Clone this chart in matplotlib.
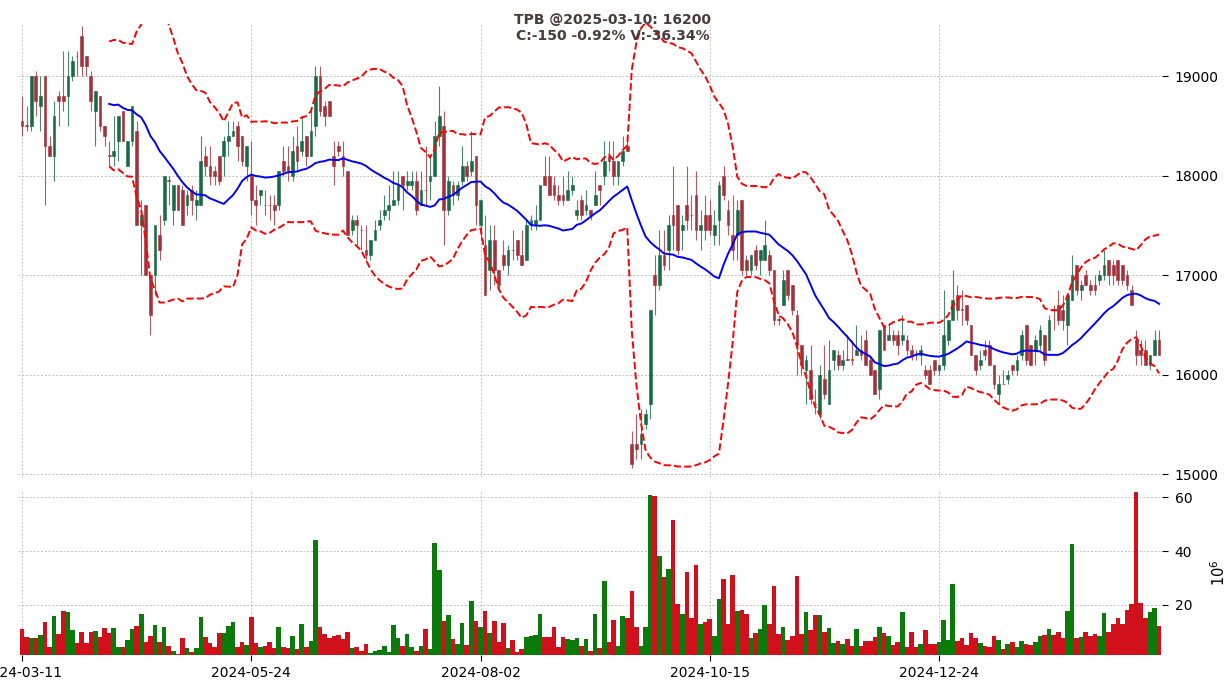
import numpy as np
import pandas as pd
import matplotlib
matplotlib.use("Agg")
import matplotlib.pyplot as plt

# OHLC (VND), 249 sessions, 2024-03-11 .. 2025-03-10
opens = [
    18550, 18500, 18500, 19000, 18700, 19000, 18300, 18200, 18800, 18800,
    18800, 19000, 19200, 19400, 19200, 19000, 18650, 18800, 18500, 18200,
    18200, 18350, 18650, 18100, 18350, 18450, 17500, 17700, 17000, 17000,
    17400, 17550, 17950, 17650, 17900, 17850, 17700, 17850, 17700, 17700,
    18200, 18100, 18050, 18200, 18200, 18350, 18400, 18500, 18400, 18100,
    18000, 17750, 17800, 17700, 17700, 17700, 17700, 18150, 18100, 18000,
    18300, 18250, 18400, 18200, 18500, 19000, 18700, 18750, 18200, 18300,
    18200, 18050, 17450, 17550, 17450, 17250, 17200, 17350, 17500, 17600,
    17650, 17700, 17750, 18000, 17900, 17900, 17950, 17700, 17850, 17950,
    18000, 18400, 18500, 17650, 17900, 17800, 17950, 18100, 18050, 18200,
    17500, 17300, 17050, 17350, 17050, 17200, 17100, 17250, 17350, 17200,
    17150, 17500, 17500, 17550, 18000, 18000, 17900, 17800, 17800, 17750,
    17850, 17600, 17750, 17650, 17650, 17700, 17900, 18000, 18200, 18150,
    18000, 18150, 18300, 15300, 15300, 15300, 15500, 15700, 17000, 16900,
    17200, 17250, 17600, 17700, 17450, 17700, 17600, 17800, 17450, 17600,
    17600, 17400, 17550, 18000, 17650, 17400, 17400, 17750, 17150, 17050,
    17250, 17150, 17150, 17200, 17050, 16550, 16700, 17050, 16900, 16600,
    16300, 16050, 16050, 15700, 15600, 15950, 15700, 16150, 16200, 16100,
    16150, 16150, 16200, 16250, 16350, 16150, 16050, 15850, 16500, 16350,
    16400, 16400, 16350, 16350, 16250, 16200, 16200, 16050, 16050, 16150,
    16050, 16100, 16350, 16550, 16800, 16650, 16700, 16500, 16200, 16100,
    16250, 16300, 16100, 15800, 15900, 15950, 16100, 16050, 16200, 16500,
    16300, 16250, 16300, 16400, 16250, 16650, 16700, 16650, 16500, 16750,
    17100, 16850, 17000, 16900, 16900, 16950, 17000, 17150, 17100, 17150,
    17100, 17000, 16850, 16350, 16250, 16250, 16100, 16200, 16350,
]
highs = [
    18800, 18700, 19000, 19050, 19000, 19000, 18400, 18750, 18850, 19250,
    19250, 19200, 19250, 19500, 19200, 19050, 18850, 18800, 18500, 18350,
    18600, 18600, 18650, 18350, 18700, 18550, 17750, 17700, 17000, 17500,
    17600, 18000, 18000, 17900, 17900, 17900, 17850, 17900, 17850, 18400,
    18300, 18300, 18100, 18200, 18400, 18550, 18550, 18550, 18400, 18300,
    18350, 17900, 17850, 17850, 17800, 17800, 18050, 18300, 18300, 18400,
    18500, 18600, 18400, 18650, 19100, 19100, 18750, 18750, 18350, 18350,
    18350, 18050, 17600, 17600, 17500, 17500, 17350, 17550, 17650, 17800,
    17900, 18050, 18050, 18000, 18050, 18050, 18050, 18050, 18300, 18200,
    18550, 18900, 18650, 18000, 17950, 17950, 18300, 18150, 18450, 18200,
    17750, 17600, 17500, 17500, 17050, 17350, 17300, 17450, 17350, 17450,
    17550, 17600, 17700, 17900, 18200, 18200, 18000, 17900, 18000, 18050,
    18000, 17750, 17800, 17850, 17650, 18050, 17900, 18350, 18350, 18350,
    18150, 18400, 18400, 15430, 15600, 15650, 15650, 16650, 17200, 17450,
    17450, 17600, 18100, 17700, 17600, 18100, 17800, 18050, 17650, 17800,
    17750, 17650, 17950, 18100, 17750, 17800, 17750, 17750, 17200, 17200,
    17300, 17250, 17550, 17250, 17050, 16600, 17050, 17050, 16900, 16650,
    16300, 16200, 16300, 15850, 16100, 16300, 16350, 16250, 16250, 16250,
    16400, 16350, 16500, 16400, 16450, 16200, 16050, 16450, 16500, 16500,
    16450, 16450, 16600, 16400, 16300, 16250, 16300, 16100, 16100, 16150,
    16100, 16850, 16550, 17050, 16900, 16850, 16700, 16500, 16200, 16250,
    16350, 16350, 16100, 16000, 16050, 16050, 16100, 16200, 16450, 16500,
    16300, 16400, 16500, 16400, 16600, 16700, 16850, 16800, 16800, 17200,
    17100, 16950, 17050, 16950, 17000, 17050, 17250, 17150, 17150, 17150,
    17100, 17050, 16900, 16450, 16350, 16350, 16200, 16450, 16450,
]
lows = [
    18400, 18450, 18450, 18600, 18450, 17700, 18200, 17950, 18500, 18650,
    18500, 18950, 19000, 19000, 19000, 18650, 18300, 18450, 18300, 18100,
    18100, 18150, 18350, 18100, 18300, 17500, 17000, 17000, 16400, 16800,
    17150, 17500, 17700, 17500, 17650, 17500, 17600, 17600, 17550, 17700,
    18000, 17900, 17900, 17900, 18000, 18200, 18400, 18150, 18100, 17950,
    17600, 17500, 17700, 17600, 17550, 17500, 17650, 18000, 17950, 17950,
    18050, 18200, 18100, 18200, 18400, 18600, 18500, 18600, 17900, 18200,
    18000, 17400, 17400, 17300, 17250, 17150, 17150, 17350, 17450, 17550,
    17550, 17700, 17700, 17650, 17850, 17850, 17600, 17700, 17700, 17750,
    18000, 18300, 17300, 17600, 17700, 17750, 17900, 17950, 18000, 17500,
    17350, 16800, 16850, 16900, 16850, 17050, 17000, 17150, 17150, 17100,
    17150, 17450, 17450, 17550, 17900, 17800, 17750, 17700, 17700, 17750,
    17800, 17550, 17550, 17600, 17550, 17700, 17700, 17900, 18050, 17900,
    17900, 18100, 18250, 15060, 15150, 15150, 15450, 15550, 16600, 16850,
    17050, 17050, 17250, 17200, 17250, 17450, 17450, 17350, 17250, 17350,
    17400, 17300, 17300, 17750, 17400, 17150, 17150, 17000, 17000, 17000,
    17050, 17000, 17150, 17000, 16500, 16500, 16700, 16750, 16600, 16000,
    16000, 15700, 15700, 15600, 15550, 15750, 15700, 16050, 16050, 16050,
    16150, 16100, 16200, 16150, 16100, 16000, 15800, 15750, 16250, 16350,
    16300, 16200, 16300, 16200, 16150, 16150, 16100, 15950, 15900, 16000,
    16000, 16050, 16300, 16550, 16550, 16500, 16500, 16200, 16000, 16050,
    16150, 16100, 15850, 15700, 15900, 15900, 16000, 16000, 16150, 16100,
    16100, 16100, 16250, 16100, 16250, 16450, 16500, 16450, 16300, 16750,
    16800, 16750, 16900, 16800, 16800, 16900, 16950, 16900, 16900, 16900,
    16900, 16850, 16700, 16100, 16100, 16100, 16050, 16200, 16200,
]
closes = [
    18500, 18500, 19000, 18750, 18800, 18300, 18200, 18600, 18750, 18750,
    19000, 19150, 19200, 19100, 19100, 18750, 18850, 18500, 18400, 18200,
    18250, 18600, 18350, 18350, 18700, 17500, 17600, 17000, 16600, 17500,
    17250, 18000, 17950, 17900, 17650, 17500, 17800, 17750, 17750, 18150,
    18100, 18000, 18000, 17950, 18350, 18400, 18450, 18300, 18150, 18300,
    17750, 17700, 17850, 17700, 17700, 17650, 18050, 18050, 18050, 18250,
    18150, 18350, 18200, 18450, 19000, 18650, 18600, 18600, 18100, 18250,
    18100, 17400, 17550, 17500, 17450, 17200, 17350, 17450, 17550, 17650,
    17700, 17750, 17900, 17900, 17950, 17950, 17650, 17850, 17850, 18000,
    18400, 18600, 17650, 17950, 17800, 17900, 18100, 18000, 18150, 17700,
    17750, 16800, 17350, 17050, 16900, 17100, 17250, 17250, 17200, 17100,
    17500, 17550, 17550, 17900, 17900, 17800, 17800, 17750, 17750, 17850,
    17900, 17650, 17600, 17700, 17600, 17800, 17850, 18150, 18150, 18000,
    18150, 18250, 18250, 15100, 15250, 15400, 15600, 16650, 16900, 17200,
    17100, 17500, 17500, 17250, 17500, 17550, 17600, 17450, 17500, 17450,
    17450, 17500, 17900, 17800, 17500, 17250, 17650, 17050, 17050, 17200,
    17100, 17250, 17300, 17050, 16550, 16550, 16950, 16800, 16650, 16300,
    16100, 16150, 15750, 15700, 16000, 15800, 16050, 16250, 16100, 16150,
    16150, 16150, 16250, 16200, 16100, 16000, 15800, 16450, 16250, 16400,
    16350, 16300, 16400, 16250, 16200, 16200, 16250, 16000, 15900, 16050,
    16100, 16400, 16550, 16750, 16650, 16650, 16550, 16200, 16050, 16150,
    16200, 16100, 15900, 15900, 15900, 16000, 16050, 16150, 16400, 16150,
    16100, 16350, 16450, 16150, 16550, 16650, 16550, 16550, 16800, 17000,
    16850, 16900, 16900, 16850, 16850, 17000, 17100, 17000, 17000, 16950,
    16950, 16900, 16700, 16200, 16200, 16100, 16200, 16350, 16200,
]
# volume, millions of shares
volumes = [
    11.1, 8.1, 7.75, 7.75, 8.9, 13.75, 4.4, 16.0, 9.25, 17.9,
    17.5, 10.75, 5.9, 10.0, 5.9, 10.0, 10.4, 8.1, 11.5, 9.6,
    11.5, 4.4, 4.4, 7.0, 11.1, 12.25, 16.75, 6.25, 8.5, 12.6,
    6.25, 11.9, 4.75, 2.9, 1.75, 7.75, 4.0, 2.5, 4.0, 15.6,
    8.1, 5.9, 4.4, 9.6, 9.6, 12.25, 13.75, 4.4, 6.25, 5.1,
    15.6, 5.9, 4.4, 4.75, 6.25, 4.0, 11.9, 4.4, 4.0, 8.5,
    3.6, 13.0, 4.4, 6.6, 44.1, 11.9, 9.25, 7.75, 8.5, 8.9,
    7.4, 10.0, 4.0, 4.4, 2.9, 5.5, 2.1, 2.9, 3.25, 4.75,
    2.5, 12.6, 7.75, 4.75, 9.25, 4.4, 2.9, 4.75, 11.1, 3.6,
    43.0, 32.9, 14.1, 16.4, 7.4, 5.5, 13.4, 5.1, 21.6, 14.1,
    11.9, 17.9, 9.6, 14.1, 6.25, 13.4, 4.0, 7.0, 2.5, 3.6,
    8.1, 8.5, 8.9, 16.75, 8.1, 8.1, 11.9, 4.4, 8.1, 7.4,
    7.0, 7.75, 4.75, 7.4, 2.9, 16.75, 4.0, 29.0, 6.25, 14.5,
    4.75, 16.0, 15.25, 25.0, 11.9, 4.75, 11.9, 60.9, 60.5, 38.0,
    30.2, 33.2, 51.5, 20.5, 16.75, 32.1, 15.25, 34.7, 13.0, 13.75,
    14.9, 8.5, 22.3, 29.5, 13.0, 31.0, 17.9, 18.25, 16.75, 7.75,
    9.6, 11.1, 20.1, 13.0, 27.2, 9.25, 11.9, 7.0, 8.5, 30.6,
    9.25, 17.5, 10.75, 16.4, 16.4, 10.0, 11.5, 5.9, 6.6, 5.5,
    7.4, 4.75, 11.1, 4.75, 6.6, 6.6, 8.1, 11.9, 9.6, 8.5,
    5.1, 6.25, 17.5, 4.4, 10.0, 4.4, 5.5, 10.75, 5.5, 5.5,
    6.25, 14.5, 7.0, 27.9, 6.6, 7.75, 5.1, 9.6, 7.75, 5.9,
    4.75, 4.4, 8.5, 7.0, 3.6, 5.5, 6.25, 4.4, 6.6, 5.5,
    5.1, 6.25, 8.5, 8.9, 11.1, 8.9, 10.0, 7.75, 17.9, 42.5,
    7.75, 8.1, 10.0, 8.5, 9.25, 8.5, 17.1, 10.0, 13.0, 15.25,
    13.0, 18.25, 20.5, 62.0, 20.8, 15.25, 17.5, 19.0, 12.1,
]
tick_pos = [0, 50, 100, 150, 200]
tick_labels = ["2024-03-11", "2024-05-24", "2024-08-02", "2024-10-15", "2024-12-24"]
title = "TPB @2025-03-10: 16200\nC:-150 -0.92% V:-36.34%"

o = np.array(opens, float)
h = np.array(highs, float)
l = np.array(lows, float)
c = np.array(closes, float)
v = np.array(volumes, float)
x = np.arange(len(c))

# bollinger 20, 2 std
s = pd.Series(c)
mid = s.rolling(20).mean()
sd = s.rolling(20).std()
upper = mid + 2 * sd
lower = mid - 2 * sd

UP = "#1a6b45"
DOWN = "#a3313a"
VUP = "#0a7a0a"
VDOWN = "#d0111b"
up = c > o
col = np.where(up, UP, DOWN)
vcol = np.where(up, VUP, VDOWN)

W, H = 1226, 690
fig = plt.figure(figsize=(W / 100, H / 100), dpi=100)
xl = (-0.9, 248.7)
ax = fig.add_axes([17.9 / W, 1 - 477 / H, 1144.4 / W, 452.7 / H])
axv = fig.add_axes([17.9 / W, 1 - 655 / H, 1144.4 / W, 165 / H], sharex=ax)

# candles
ax.vlines(x, l, h, colors=col, linewidth=0.8, alpha=0.8)
body_lo = np.minimum(o, c)
body_h = np.maximum(np.abs(c - o), 6)
ax.bar(x, body_h, bottom=body_lo, width=0.6, color=col, edgecolor=col, linewidth=0.4)

ax.plot(x, upper, color="red", linestyle="--", linewidth=1.4)
ax.plot(x, lower, color="red", linestyle="--", linewidth=1.4)
ax.plot(x, mid, color="blue", linewidth=1.4)

ax.set_xlim(*xl)
ax.set_ylim(14970, 19520)
ax.set_yticks([15000, 16000, 17000, 18000, 19000])
ax.yaxis.tick_right()
ax.tick_params(axis="y", length=4, width=0.8, labelsize=10, pad=5)
ax.tick_params(axis="x", length=0, labelbottom=False)

# volume
axv.bar(x, v, width=1.0, color=vcol, linewidth=0)
axv.set_ylim(1.4, 62.7)
axv.set_yticks([20, 40, 60])
axv.yaxis.tick_right()
axv.yaxis.set_label_position("right")
axv.set_ylabel(r"$10^6$", fontsize=10.5, labelpad=12)
axv.tick_params(axis="y", length=4, width=0.8, labelsize=10, pad=5)
axv.set_xticks(tick_pos)
axv.set_xticklabels(tick_labels)
axv.tick_params(axis="x", length=4, width=0.8, labelsize=10, pad=4)

for a in (ax, axv):
    for sp in a.spines.values():
        sp.set_visible(False)
    a.grid(True, linestyle=(0, (2.5, 2)), color="#bbbbbb", linewidth=0.6)
    a.set_axisbelow(True)

fig.text(0.5, 1 - 28 / H, title, ha="center", va="center",
         fontsize=10, fontweight="bold", color="#4a3b3b", linespacing=1.15)

fig.savefig("out.png", dpi=100)
